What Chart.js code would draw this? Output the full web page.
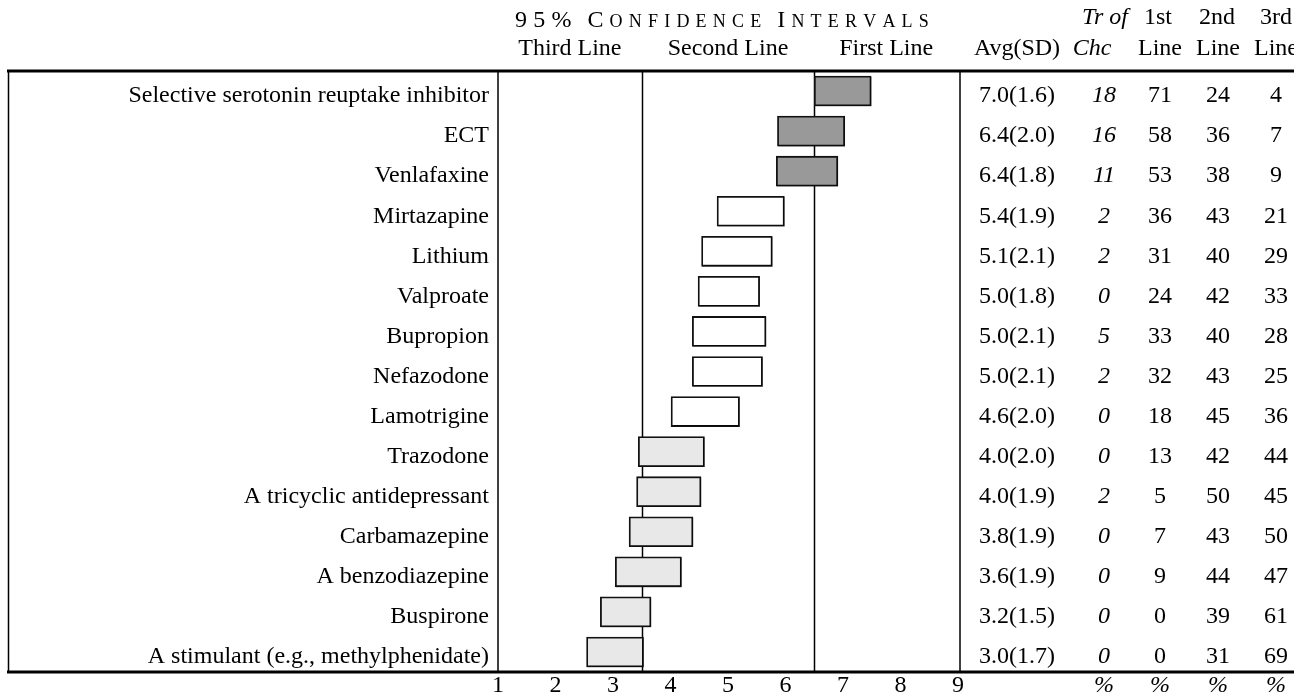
<!DOCTYPE html>
<html>
<head>
<meta charset="utf-8">
<script src="https://cdn.jsdelivr.net/npm/chart.js@4"></script>
<style>
html,body{margin:0;padding:0;background:#fff;}
#wrap{width:1294px;height:696px;position:relative;}
</style>
</head>
<body>
<div id="wrap"><canvas id="c" width="1294" height="696"></canvas></div>
<script>
const categories = [
  "Selective serotonin reuptake inhibitor","ECT","Venlafaxine","Mirtazapine","Lithium",
  "Valproate","Bupropion","Nefazodone","Lamotrigine","Trazodone",
  "A tricyclic antidepressant","Carbamazepine","A benzodiazepine","Buspirone",
  "A stimulant (e.g., methylphenidate)"
];
const ciLow  = [6.50,5.86,5.84,4.81,4.54,4.48,4.38,4.38,4.01,3.44,3.41,3.28,3.04,2.78,2.54];
const ciHigh = [7.49,7.03,6.91,5.98,5.77,5.55,5.66,5.60,5.20,4.59,4.53,4.39,4.19,3.66,3.53];
const tiers  = ["first","first","first","second","second","second","second","second","second","third","third","third","third","third","third"];
const means  = [7.0,6.4,6.4,5.4,5.1,5.0,5.0,5.0,4.6,4.0,4.0,3.8,3.6,3.2,3.0];
const sds    = [1.6,2.0,1.8,1.9,2.1,1.8,2.1,2.1,2.0,2.0,1.9,1.9,1.9,1.5,1.7];
const treatmentOfChoice = [18,16,11,2,2,0,5,2,0,0,2,0,0,0,0];
const firstLinePct  = [71,58,53,36,31,24,33,32,18,13,5,7,9,0,0];
const secondLinePct = [24,36,38,43,40,42,40,43,45,42,50,43,44,39,31];
const thirdLinePct  = [4,7,9,21,29,33,28,25,36,44,45,50,47,61,69];
const xTicks = [1,2,3,4,5,6,7,8,9];
const cutoffs = [3.5,6.5];
const bandLabels = ["Third Line","Second Line","First Line"];

const tierColor = {first:"#999999", second:"#ffffff", third:"#e8e8e8"};
const FONT = "'Liberation Serif','Times New Roman',serif";

const overlay = {
  id:'overlay',
  beforeDatasetsDraw(chart){
    const ctx = chart.ctx, x = chart.scales.x, a = chart.chartArea;
    ctx.save();
    ctx.strokeStyle = '#000'; ctx.lineWidth = 1.5;
    cutoffs.forEach(v=>{
      const px = Math.round(x.getPixelForValue(v))+0.5;
      ctx.beginPath(); ctx.moveTo(px, a.top); ctx.lineTo(px, a.bottom); ctx.stroke();
    });
    [8.5, a.left, a.right+2].forEach(px=>{
      ctx.beginPath(); ctx.moveTo(px, a.top); ctx.lineTo(px, a.bottom); ctx.stroke();
    });
    ctx.restore();
    ctx.save();
    ctx.shadowColor = 'rgba(0,0,0,0.45)';
    ctx.shadowOffsetX = 1; ctx.shadowOffsetY = 1; ctx.shadowBlur = 0;
  },
  afterDatasetsDraw(chart){
    chart.ctx.restore();
  },
  afterDraw(chart){
    const ctx = chart.ctx, x = chart.scales.x, y = chart.scales.y, a = chart.chartArea;
    ctx.save();
    ctx.strokeStyle = '#000'; ctx.lineWidth = 3;
    ctx.beginPath(); ctx.moveTo(7, a.top); ctx.lineTo(1294, a.top); ctx.stroke();
    ctx.beginPath(); ctx.moveTo(7, a.bottom); ctx.lineTo(1294, a.bottom); ctx.stroke();

    ctx.fillStyle = '#000';
    ctx.textBaseline = 'middle';
    const fs = 24;
    const norm = fs + 'px ' + FONT, ital = 'italic ' + fs + 'px ' + FONT;
    categories.forEach((c,i)=>{
      const py = y.getPixelForValue(i) + 5;
      ctx.font = norm; ctx.textAlign = 'right';
      ctx.fillText(c, 489, py);
      ctx.textAlign = 'center';
      ctx.fillText(means[i].toFixed(1)+'('+sds[i].toFixed(1)+')', 1017, py);
      ctx.font = ital;
      ctx.fillText(String(treatmentOfChoice[i]), 1104, py);
      ctx.font = norm;
      ctx.fillText(String(firstLinePct[i]), 1160, py);
      ctx.fillText(String(secondLinePct[i]), 1218, py);
      ctx.fillText(String(thirdLinePct[i]), 1276, py);
    });
    ctx.font = norm; ctx.textAlign = 'center';
    xTicks.forEach(t=>ctx.fillText(String(t), x.getPixelForValue(t), 686));
    ctx.font = ital;
    [1104,1160,1218,1276].forEach(px=>ctx.fillText('%', px, 686));

    ctx.font = norm;
    const bandCenters = [(1+cutoffs[0])/2, (cutoffs[0]+cutoffs[1])/2, (cutoffs[1]+9)/2];
    bandLabels.forEach((b,i)=>ctx.fillText(b, x.getPixelForValue(bandCenters[i]), 49));
    ctx.fillText('Avg(SD)', 1017, 49);
    ctx.font = ital; ctx.fillText('Chc', 1092, 49); ctx.fillText('Tr of', 1105, 18);
    ctx.font = norm;
    ctx.fillText('Line', 1160, 49); ctx.fillText('Line', 1218, 49); ctx.fillText('Line', 1276, 49);
    ctx.fillText('1st', 1158, 18); ctx.fillText('2nd', 1217, 18); ctx.fillText('3rd', 1276, 18);

    const big = fs + 'px ' + FONT, small = '18px ' + FONT;
    const words = [[['9',big],['5',big],['%',big]],
                   [['C',big],...'ONFIDENCE'.split('').map(ch=>[ch,small])],
                   [['I',big],...'NTERVALS'.split('').map(ch=>[ch,small])]];
    ctx.textAlign = 'left'; ctx.textBaseline = 'alphabetic';
    let cx = 515; const sp = 6.2, wsp = 16;
    words.forEach((w)=>{
      w.forEach(([ch,f],k)=>{
        ctx.font = f; ctx.fillText(ch, cx, 27);
        cx += ctx.measureText(ch).width + (k < w.length-1 ? sp : 0);
      });
      cx += wsp;
    });
    ctx.restore();
  }
};

new Chart(document.getElementById('c'), {
  type:'bar',
  data:{
    labels: categories,
    datasets:[{
      data: ciLow.map((l,i)=>[l, ciHigh[i]]),
      backgroundColor: tiers.map(t=>tierColor[t]),
      borderColor:'#111',
      borderWidth:1.8,
      borderSkipped:false,
      barThickness:30
    }]
  },
  options:{
    indexAxis:'y',
    responsive:false,
    animation:false,
    layout:{padding:{left:498, right:336, top:71, bottom:24}},
    scales:{
      x:{type:'linear', min:1, max:9, display:false},
      y:{display:false, offset:true}
    },
    plugins:{legend:{display:false}, tooltip:{enabled:false}}
  },
  plugins:[overlay]
});
</script>
</body>
</html>
